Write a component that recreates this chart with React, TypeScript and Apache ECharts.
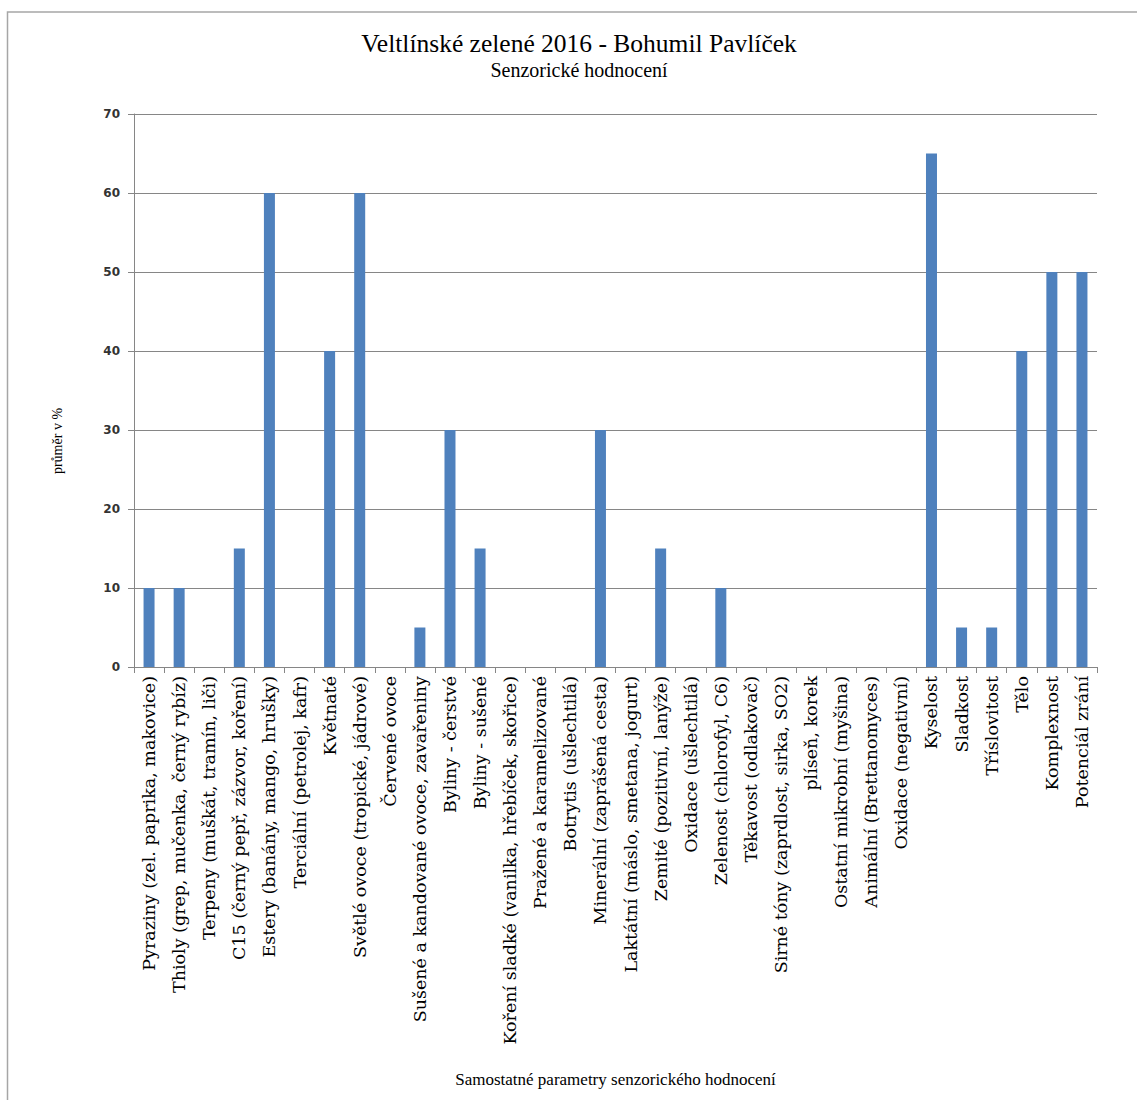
import React, { useEffect, useRef } from "react";
import * as echarts from "echarts";

const categories: string[] = [
  "Pyraziny (zel. paprika, makovice)",
  "Thioly (grep, mučenka, černý rybíz)",
  "Terpeny (muškát, tramín, liči)",
  "C15 (černý pepř, zázvor, koření)",
  "Estery (banány, mango, hrušky)",
  "Terciální (petrolej, kafr)",
  "Květnaté",
  "Světlé ovoce (tropické, jádrové)",
  "Červené ovoce",
  "Sušené a kandované ovoce, zavařeniny",
  "Byliny - čerstvé",
  "Byliny - sušené",
  "Koření sladké (vanilka, hřebíček, skořice)",
  "Pražené a karamelizované",
  "Botrytis (ušlechtilá)",
  "Minerální (zaprášená cesta)",
  "Laktátní (máslo, smetana, jogurt)",
  "Zemité (pozitivní, lanýže)",
  "Oxidace (ušlechtilá)",
  "Zelenost (chlorofyl, C6)",
  "Těkavost (odlakovač)",
  "Sirné tóny (zaprdlost, sirka, SO2)",
  "plíseň, korek",
  "Ostatní mikrobní (myšina)",
  "Animální (Brettanomyces)",
  "Oxidace (negativní)",
  "Kyselost",
  "Sladkost",
  "Tříslovitost",
  "Tělo",
  "Komplexnost",
  "Potenciál zrání",
];

const values: number[] = [
  10, 10, 0, 15, 60, 0, 40, 60, 0, 5, 30, 15, 0, 0, 0, 30,
  0, 15, 0, 10, 0, 0, 0, 0, 0, 0, 65, 5, 5, 40, 50, 50,
];

const titleText = "Veltlínské zelené 2016 - Bohumil Pavlíček";
const subtitleText = "Senzorické hodnocení";
const yAxisTitle = "průměr v %";
const xAxisTitle = "Samostatné parametry senzorického hodnocení";

export default function App() {
  const ref = useRef<HTMLDivElement>(null);
  useEffect(() => {
    if (!ref.current) return;
    const chart = echarts.init(ref.current, undefined, { renderer: "svg" });
    const serif = "'Liberation Serif', 'Times New Roman', serif";
    chart.setOption({
      animation: false,
      backgroundColor: "#ffffff",
      title: {
        text: titleText,
        subtext: subtitleText,
        left: 574,
        textAlign: "center",
        top: 25,
        itemGap: 4,
        textStyle: { fontFamily: serif, fontSize: 25.5, fontWeight: "normal", color: "#000" },
        subtextStyle: { fontFamily: serif, fontSize: 20, color: "#000" },
      },
      graphic: [
        {
          type: "rect",
          shape: { x: 7.5, y: 12, width: 1140, height: 1100 },
          style: { fill: "none", stroke: "#a6a6a6", lineWidth: 1.5 },
          silent: true,
        },
        {
          type: "text",
          x: 57,
          y: 441,
          rotation: Math.PI / 2,
          style: {
            text: yAxisTitle,
            fontFamily: serif,
            fontSize: 14,
            fill: "#000",
            align: "center",
            verticalAlign: "middle",
          },
          silent: true,
        },
      ],
      grid: { left: 134, right: 40, top: 114, bottom: 433, containLabel: false },
      xAxis: {
        type: "category",
        data: categories,
        name: xAxisTitle,
        nameLocation: "middle",
        nameGap: 404,
        nameTextStyle: { fontFamily: serif, fontSize: 17, color: "#000" },
        axisLine: { lineStyle: { color: "#868686", width: 1 } },
        axisTick: { show: true, length: 6, lineStyle: { color: "#868686" } },
        axisLabel: {
          rotate: 90,
          interval: 0,
          fontFamily: "'DejaVu Serif', serif",
          fontSize: 17.5,
          color: "#000",
          margin: 9,
        },
      },
      yAxis: {
        type: "value",
        min: 0,
        max: 70,
        interval: 10,
        axisLine: { show: true, lineStyle: { color: "#868686" } },
        axisTick: { show: true, length: 6, lineStyle: { color: "#868686" } },
        axisLabel: {
          fontFamily: "'DejaVu Sans', Verdana, sans-serif",
          fontSize: 12,
          fontWeight: "bold",
          color: "#333",
          margin: 14,
        },
        splitLine: { lineStyle: { color: "#868686", width: 1 } },
      },
      series: [
        {
          type: "bar",
          data: values,
          barWidth: 11,
          itemStyle: { color: "#4f81bd" },
        },
      ],
    });
    return () => chart.dispose();
  }, []);
  return (
    <div
      ref={ref}
      style={{ position: "absolute", left: 0, top: 0, width: 1137, height: 1100 }}
    />
  );
}
